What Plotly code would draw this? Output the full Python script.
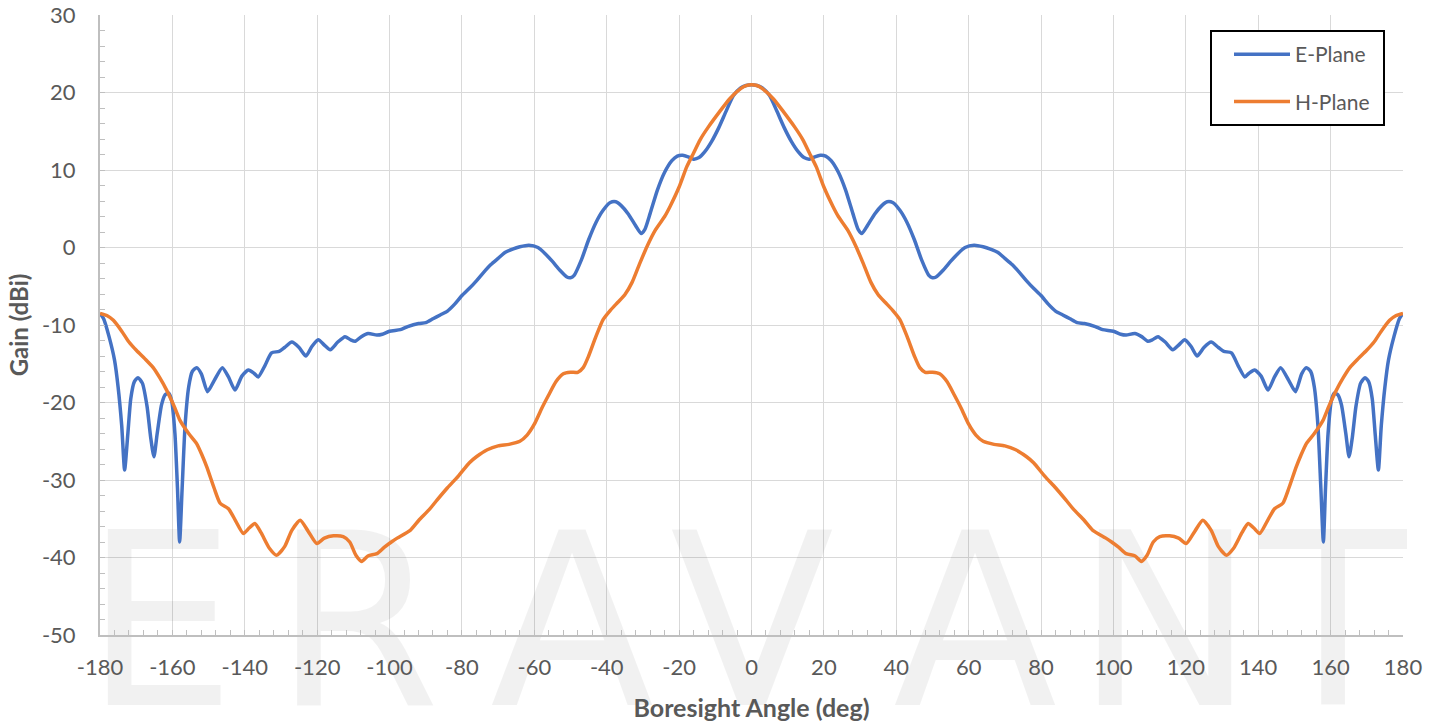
import plotly.graph_objects as go

# ---------------- data ----------------
e_angle = [-180, -179, -177.5, -176, -175, -174, -173.2, -172.3, -171.5, -170.5, -169.5, -168.3,
           -167, -166, -165.1, -164.2, -163, -162, -161, -160.2, -159.3, -158.6, -158, -157.3,
           -156.5, -155.5, -154.5, -153.3, -152, -150.3, -148.5, -146.2, -144.5, -142.7, -140.8,
           -139, -137.5, -136.3, -134.5, -132.6, -130.5, -129, -127, -125, -123.1, -121.5, -119.7,
           -118, -116.4, -114.3, -112.3, -110.8, -109.5, -107.8, -105.9, -103.5, -102, -100, -97,
           -95, -92, -90, -88, -86, -84, -82, -80, -78, -76, -74, -72, -70, -68, -66, -64, -61.5,
           -59, -57, -55, -53, -51, -50, -49, -47, -45, -43, -41, -39, -37.5, -36, -34, -32, -30.5,
           -29.5, -28, -26, -24, -22, -20.5, -19, -17.5, -16, -14.5, -13, -11, -9, -7, -5, -3, -1.5,
           0,
           1.5, 3, 5, 7, 9, 11, 13, 14.5, 16, 17.5, 19, 20.5, 22, 24, 26, 28, 29.5, 30.5, 32, 34, 36,
           37.5, 39, 41, 43, 45, 47, 49, 50, 51, 53, 55, 57, 59, 61.5, 64, 66, 68, 70, 72, 74, 76,
           78, 80, 82, 84, 86, 88, 90, 92, 95, 97, 100, 102, 103.5, 105.9, 107.8, 109.5, 110.8,
           112.3, 114.3, 116.4, 118, 119.7, 121.5, 123.1, 125, 127, 129, 130.5, 132.6, 134.5, 136.3,
           137.5, 139, 140.8, 142.7, 144.5, 146.2, 148.5, 150.3, 152, 153.3, 154.5, 155.5, 156.5,
           157.3, 158, 158.6, 159.3, 160.2, 161, 162, 163, 164.2, 165.1, 166, 167, 168.3, 169.5,
           170.5, 171.5, 172.3, 173.2, 174, 175, 176, 177.5, 179, 180]
e_gain = [-8.5, -9.2, -11.5, -14.5, -18.0, -23.0, -28.7, -24.0, -19.5, -17.3, -16.8, -17.5,
          -20.5, -24.5, -27.0, -24.0, -20.3, -19.0, -18.8, -19.8, -24.0, -31.0, -38.0, -31.0,
          -23.0, -18.0, -16.0, -15.5, -16.3, -18.6, -17.2, -15.5, -16.7, -18.4, -16.6,
          -15.8, -16.2, -16.7, -15.3, -13.6, -13.4, -12.9, -12.2, -12.9, -14.0, -12.8, -11.9,
          -12.6, -13.2, -12.2, -11.5, -11.9, -12.1, -11.5, -11.1, -11.3, -11.2, -10.8, -10.6,
          -10.2, -9.8, -9.7, -9.2, -8.7, -8.2, -7.3, -6.2, -5.3, -4.3, -3.2, -2.2, -1.4, -0.6, -0.2,
          0.1, 0.3, 0.0, -0.8, -1.8, -2.9, -3.8, -3.9, -3.6, -1.6, 1.0, 3.2, 4.8, 5.8, 5.9, 5.4,
          4.3, 2.8, 1.8, 2.3, 4.4, 7.4, 9.7, 11.2, 11.8, 11.9, 11.7, 11.4, 11.6, 12.3, 13.7, 15.5,
          17.6, 19.6, 20.6, 20.9,
          21.0,
          20.9, 20.6, 19.6, 17.6, 15.5, 13.7, 12.3, 11.6, 11.4, 11.7, 11.9, 11.8, 11.2, 9.7, 7.4,
          4.4, 2.3, 1.8, 2.8, 4.3, 5.4, 5.9, 5.8, 4.8, 3.2, 1.0, -1.6, -3.6, -3.9, -3.8, -2.9,
          -1.8, -0.8, 0.0, 0.3, 0.1, -0.2, -0.6, -1.4, -2.2, -3.2, -4.3, -5.3, -6.2, -7.3, -8.2,
          -8.7, -9.2, -9.7, -9.8, -10.2, -10.6, -10.8, -11.2, -11.3, -11.1, -11.5, -12.1, -11.9,
          -11.5, -12.2, -13.2, -12.6, -11.9, -12.8, -14.0, -12.9, -12.2, -12.9, -13.4, -13.6,
          -15.3, -16.7, -16.2, -15.8, -16.6, -18.4, -16.7, -15.5, -17.2, -18.6, -16.3, -15.5,
          -16.0, -18.0, -23.0, -31.0, -38.0, -31.0, -24.0, -19.8, -18.8, -19.0, -20.3, -24.0,
          -27.0, -24.5, -20.5, -17.5, -16.8, -17.3, -19.5, -24.0, -28.7, -23.0, -18.0, -14.5,
          -11.5, -9.2, -8.5]

h_angle = [-180, -178, -176.3, -174, -172, -169.9, -167.5, -165.3, -163.5, -161.6, -159.5, -157.9,
           -155.5, -153.3, -151.8, -150.5, -148.5, -146.8, -144.5, -142.5, -140.4, -138.8, -137.2,
           -135.5, -133.2, -131.2, -129, -127, -124.7, -122.5, -120.1, -118, -115.5, -112.8, -111,
           -109.3, -107.7, -106, -103.5, -101.5, -99.5, -97.9, -94.3, -91.9, -89, -86.9, -84, -81,
           -78, -76, -73, -70, -67, -64, -62, -60, -58, -56, -54, -52, -50, -48, -46.5, -45, -43,
           -41, -39, -37, -35, -33, -31, -28.9, -26.5, -24, -22.5, -20, -17.9, -16, -14.2, -12,
           -8.7, -6, -3, -1.5,
           0,
           1.5, 3, 6, 8.7, 12, 14.2, 16, 17.9, 20, 22.5, 24, 26.5, 28.9, 31, 33, 35, 37, 39, 41,
           43, 45, 46.5, 48, 50, 52, 54, 56, 58, 60, 62, 64, 67, 70, 73, 76, 78, 81, 84, 86.9, 89,
           91.9, 94.3, 97.9, 99.5, 101.5, 103.5, 106, 107.7, 109.3, 111, 112.8, 115.5, 118, 120.1,
           122.5, 124.7, 127, 129, 131.2, 133.2, 135.5, 137.2, 138.8, 140.4, 142.5, 144.5, 146.8,
           148.5, 150.5, 151.8, 153.3, 155.5, 157.9, 159.5, 161.6, 163.5, 165.3, 167.5, 169.9,
           172, 174, 176.3, 178, 180]
h_gain = [-8.5, -8.8, -9.4, -10.8, -12.2, -13.3, -14.4, -15.5, -16.8, -18.4, -20.5, -22.3,
          -24.0, -25.3, -26.8, -28.3, -31.0, -33.0, -33.7, -35.3, -36.9, -36.2, -35.6,
          -36.8, -38.8, -39.7, -38.6, -36.5, -35.2, -36.6, -38.2, -37.5, -37.2, -37.3, -38.0,
          -39.7, -40.5, -39.8, -39.5, -38.7, -38.0, -37.5, -36.5, -35.2, -33.8, -32.6, -31.0, -29.5,
          -27.8, -27.0, -26.1, -25.6, -25.4, -25.0, -24.2, -22.8, -20.8, -19.0, -17.3, -16.3,
          -16.1, -16.1, -15.5, -14.0, -11.5, -9.3, -8.1, -7.1, -6.1, -4.5, -2.2, 0.1, 2.3, 4.0,
          5.3, 7.8, 10.4, 12.2, 13.9, 15.5, 17.6, 19.2, 20.5, 20.9,
          21.0,
          20.9, 20.5, 19.2, 17.6, 15.5, 13.9, 12.2, 10.4, 7.8, 5.3, 4.0, 2.3, 0.1, -2.2, -4.5,
          -6.1, -7.1, -8.1, -9.3, -11.5, -14.0, -15.5, -16.1, -16.1, -16.3, -17.3, -19.0, -20.8,
          -22.8, -24.2, -25.0, -25.4, -25.6, -26.1, -27.0, -27.8, -29.5, -31.0, -32.6, -33.8,
          -35.2, -36.5, -37.5, -38.0, -38.7, -39.5, -39.8, -40.5, -39.7, -38.0, -37.3, -37.2,
          -37.5, -38.2, -36.6, -35.2, -36.5, -38.6, -39.7, -38.8, -36.8, -35.6, -36.2, -36.9,
          -35.3, -33.7, -33.0, -31.0, -28.3, -26.8, -25.3, -24.0, -22.3, -20.5, -18.4, -16.8,
          -15.5, -14.4, -13.3, -12.2, -10.8, -9.4, -8.8, -8.5]

x_ticks = [-180, -160, -140, -120, -100, -80, -60, -40, -20, 0, 20, 40, 60, 80, 100, 120, 140, 160, 180]
y_ticks = [-50, -40, -30, -20, -10, 0, 10, 20, 30]

watermark_letters = ["E", "R", "A", "V", "A", "N", "T"]

# ---------------- layout geometry (page pixels) ----------------
W, H = 1439, 723
L, T = 100, 15
R = W - 1403
B = H - 635
X0, X1 = -180, 180
Y0, Y1 = -50, 30
pw = W - L - R
ph = H - T - B


def px_to_x(px):
    return X0 + (px - L) / pw * (X1 - X0)


def py_to_y(py):
    return Y1 - (py - T) / ph * (Y1 - Y0)


def px_to_paper(px):
    return (px - L) / pw


def py_to_paper(py):
    return 1 - (py - T) / ph


WM_SIZE = 240
wm_px = [160, 357, 572, 752, 975, 1165, 1333]
wm_x = [px_to_x(p) for p in wm_px]
# "bottom center" puts the baseline 0.75 em below the anchor point
wm_y = [py_to_y(705 - 0.75 * WM_SIZE)] * len(wm_px)

GRAY_TXT = "#595959"
FONT = "Lato"

fig = go.Figure()

# background watermark
fig.add_trace(go.Scatter(
    x=wm_x, y=wm_y, mode="text", text=watermark_letters,
    textfont=dict(family="DejaVu Sans", size=WM_SIZE, color="rgba(0,0,0,0.055)"),
    textposition="bottom center", cliponaxis=False,
    hoverinfo="skip", showlegend=False))

fig.add_trace(go.Scatter(
    x=e_angle, y=e_gain, mode="lines", name="E-Plane", legendgroup="e",
    line=dict(color="#4472C4", width=3.5, shape="spline", smoothing=0.6)))
fig.add_trace(go.Scatter(
    x=h_angle, y=h_gain, mode="lines", name="H-Plane", legendgroup="h",
    line=dict(color="#ED7D31", width=3.5, shape="spline", smoothing=0.6)))

axis_common = dict(
    showgrid=True, gridcolor="#d9d9d9", gridwidth=1.3,
    showline=True, linecolor="#bfbfbf", linewidth=2,
    ticks="inside", ticklen=5, tickcolor="#bfbfbf", tickwidth=1.3,
    zeroline=False, ticklabeloverflow="allow",
    tickfont=dict(family=FONT, size=22, color=GRAY_TXT),
)

fig.update_xaxes(
    range=[X0, X1], tickmode="array", tickvals=x_ticks,
    ticktext=[str(v) for v in x_ticks],
    minor=dict(dtick=4, tick0=-180, ticks="inside", ticklen=5, tickcolor="#bfbfbf",
               tickwidth=1.3, showgrid=False),
    ticklabelstandoff=12,
    title=dict(text="<b>Boresight Angle (deg)</b>", font=dict(family=FONT, size=25, color=GRAY_TXT),
               standoff=20),
    **axis_common)
fig.update_yaxes(
    range=[Y0, Y1], tickmode="array", tickvals=y_ticks,
    ticktext=[str(v) for v in y_ticks],
    minor=dict(dtick=2, tick0=-50, ticks="inside", ticklen=5, tickcolor="#bfbfbf",
               tickwidth=1.3, showgrid=False),
    ticklabelstandoff=18,
    title=dict(text="<b>Gain (dBi)</b>", font=dict(family=FONT, size=24, color=GRAY_TXT),
               standoff=6),
    **axis_common)

# legend frame (white box with black border), legend entries placed inside it
fig.add_shape(
    type="rect", xref="paper", yref="paper", layer="above",
    x0=px_to_paper(1211), x1=px_to_paper(1384), y0=py_to_paper(125), y1=py_to_paper(31),
    line=dict(color="black", width=2), fillcolor="white")

fig.update_layout(
    width=W, height=H,
    margin=dict(l=L, r=R, t=T, b=B, autoexpand=False),
    paper_bgcolor="white", plot_bgcolor="white",
    showlegend=True,
    legend=dict(
        x=px_to_paper(1229), y=py_to_paper(34), xanchor="left", yanchor="top",
        bgcolor="rgba(0,0,0,0)", borderwidth=0,
        font=dict(family=FONT, size=21, color=GRAY_TXT),
        tracegroupgap=17, itemwidth=56,
    ),
)

# remove the default 8px page margin so the figure sits at the page's top-left corner
fig.write_html("out.html", config={"displayModeBar": False},
               post_script="document.body.style.margin='0px';")
